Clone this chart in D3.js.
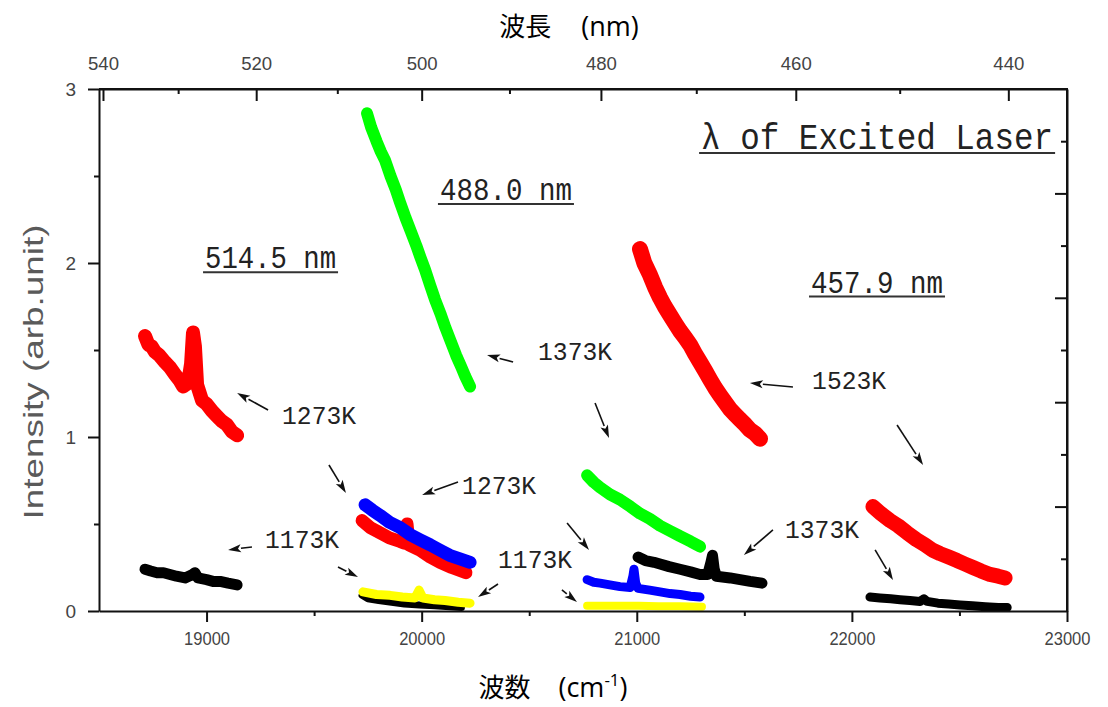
<!DOCTYPE html>
<html><head><meta charset="utf-8">
<script src="https://cdn.jsdelivr.net/npm/d3@7"></script>
<style>body{margin:0;background:#fff;} svg{display:block;}</style>
</head><body><svg id="c" width="1108" height="707"></svg>
<script>
// ---------- tick values ----------
const xTicksMajor = [19000, 20000, 21000, 22000, 23000];
const xTicksMinor = [19500, 20500, 21500, 22500];
const yTicksMajor = [0, 1, 2, 3];
const yTicksMinor = [0.5, 1.5, 2.5];
const wlTicksMajor = [540, 520, 500, 480, 460, 440];
const wlTicksMinor = [530, 510, 490, 470, 450];
const rightTicksLong = [0.6, 1.2, 1.8, 2.4];
const rightTicksShort = [0.3, 0.9, 1.5, 2.1, 2.7];

// ---------- data series: [wavenumber (cm-1), intensity] ----------
// laser 514.5 nm
const red514_1273K = [[18714,1.58],[18730,1.53],[18745,1.52],[18760,1.49],[18780,1.47],[18807,1.43],[18830,1.40],[18853,1.36],[18872,1.33],[18891,1.29],[18914,1.31],[18928,1.42],[18937,1.60],[18946,1.52],[18956,1.30],[18979,1.21],[19000,1.19],[19025,1.15],[19048,1.12],[19072,1.09],[19095,1.07],[19118,1.03],[19142,1.01]];
const black514_1173K = [[18714,0.24],[18740,0.23],[18770,0.22],[18800,0.22],[18830,0.21],[18860,0.20],[18900,0.19],[18935,0.21],[18946,0.22],[18960,0.19],[19000,0.18],[19030,0.17],[19063,0.17],[19100,0.16],[19142,0.15]];
// laser 488.0 nm
const green488_1373K = [[19746,2.86],[19765,2.78],[19790,2.70],[19810,2.64],[19830,2.59],[19855,2.50],[19880,2.42],[19899,2.35],[19925,2.26],[19950,2.18],[19975,2.10],[19995,2.03],[20016,1.96],[20040,1.87],[20062,1.79],[20090,1.70],[20110,1.63],[20132,1.56],[20160,1.47],[20185,1.40],[20202,1.35],[20225,1.29]];
const red488_1273K = [[19723,0.52],[19760,0.48],[19806,0.45],[19850,0.42],[19899,0.40],[19920,0.39],[19932,0.50],[19941,0.38],[19992,0.35],[20040,0.31],[20085,0.28],[20140,0.25],[20206,0.22]];
const blue488_1273K = [[19737,0.61],[19770,0.58],[19806,0.55],[19850,0.51],[19899,0.48],[19945,0.44],[19992,0.41],[20040,0.38],[20085,0.35],[20130,0.32],[20178,0.30],[20225,0.28]];
const black488_1173K = [[19723,0.09],[19750,0.07],[19800,0.06],[19860,0.05],[19920,0.04],[19990,0.035],[20060,0.03],[20130,0.025],[20185,0.02]];
const yellow488_1173K = [[19727,0.11],[19790,0.095],[19853,0.09],[19910,0.08],[19969,0.075],[19988,0.12],[20006,0.075],[20060,0.065],[20109,0.06],[20170,0.05],[20225,0.045]];
// laser 457.9 nm
const green458_1373K = [[20769,0.78],[20800,0.74],[20829,0.71],[20875,0.67],[20922,0.64],[20970,0.60],[21015,0.56],[21060,0.53],[21108,0.49],[21155,0.46],[21201,0.43],[21250,0.40],[21294,0.37]];
const blue458_1273K = [[20769,0.18],[20800,0.165],[20829,0.16],[20875,0.15],[20922,0.14],[20969,0.135],[20982,0.20],[20987,0.24],[20995,0.16],[21006,0.13],[21060,0.12],[21108,0.11],[21155,0.10],[21201,0.095],[21250,0.085],[21294,0.08]];
const yellow458_1173K = [[20769,0.03],[20850,0.03],[20930,0.03],[21010,0.03],[21100,0.028],[21200,0.027],[21303,0.025]];
const black458_1373K = [[21006,0.31],[21040,0.29],[21080,0.28],[21108,0.27],[21150,0.255],[21201,0.24],[21250,0.225],[21294,0.21],[21330,0.21],[21345,0.28],[21352,0.32],[21360,0.24],[21370,0.20],[21434,0.19],[21480,0.18],[21527,0.17],[21582,0.16]];
const red458_1523K = [[21015,2.08],[21035,2.00],[21062,1.93],[21085,1.86],[21108,1.80],[21130,1.75],[21155,1.70],[21180,1.65],[21201,1.61],[21225,1.57],[21248,1.53],[21270,1.48],[21294,1.43],[21318,1.38],[21341,1.33],[21365,1.28],[21387,1.24],[21410,1.20],[21434,1.16],[21457,1.13],[21480,1.10],[21505,1.07],[21527,1.04],[21550,1.02],[21573,0.99]];
const red4579_1523K = [[22098,0.60],[22135,0.56],[22177,0.52],[22215,0.49],[22256,0.45],[22300,0.41],[22340,0.38],[22375,0.35],[22410,0.33],[22450,0.31],[22489,0.29],[22525,0.27],[22563,0.25],[22600,0.23],[22642,0.21],[22680,0.20],[22712,0.19]];
const black4579_1373K = [[22084,0.08],[22130,0.075],[22180,0.07],[22224,0.065],[22270,0.06],[22317,0.055],[22335,0.07],[22350,0.055],[22400,0.045],[22450,0.04],[22503,0.035],[22560,0.03],[22620,0.025],[22680,0.02],[22722,0.02]];

// ---------- annotation texts ----------
const laserLabels = ["λ of Excited Laser", "488.0 nm", "514.5 nm", "457.9 nm"];
const tempLabels = ["1373K", "1523K", "1273K", "1273K", "1173K", "1173K", "1373K"];

// ---------- layout ----------
const svg = d3.select("#c");
const L = 99, R = 1067, T = 89, B = 611;
const x = d3.scaleLinear().domain([18500, 23000]).range([L, R]);
const y = d3.scaleLinear().domain([0, 3]).range([B, T]);
const wl = v => 1e7 / v;  // nm -> cm-1

const series = [
  {d: red514_1273K, c: "#ff0000", w: 14},
  {d: black514_1173K, c: "#000000", w: 11},
  {d: green488_1373K, c: "#00ff00", w: 12},
  {d: red488_1273K, c: "#ff0000", w: 13},
  {d: blue488_1273K, c: "#0000ff", w: 13},
  {d: black488_1173K, c: "#000000", w: 7},
  {d: yellow488_1173K, c: "#ffff00", w: 9},
  {d: green458_1373K, c: "#00ff00", w: 12},
  {d: blue458_1273K, c: "#0000ff", w: 9},
  {d: yellow458_1173K, c: "#ffff00", w: 8},
  {d: black458_1373K, c: "#000000", w: 11},
  {d: red458_1523K, c: "#ff0000", w: 16},
  {d: red4579_1523K, c: "#ff0000", w: 15},
  {d: black4579_1373K, c: "#000000", w: 9}
];

const line = d3.line().x(d => x(d[0])).y(d => y(d[1]));
svg.append("g").selectAll("path").data(series).join("path")
  .attr("d", s => line(s.d)).attr("fill", "none")
  .attr("stroke", s => s.c).attr("stroke-width", s => s.w)
  .attr("stroke-linejoin", "round").attr("stroke-linecap", "round");

// ---------- axes ----------
const tickFont = g => g.selectAll("text").attr("fill", "#444")
  .style("font-family", "'Liberation Sans', Arial, sans-serif").style("font-size", "19px");
const axisStyle = g => { g.selectAll("line").attr("stroke", "#111").attr("stroke-width", 2);
  g.selectAll(".domain").attr("stroke", "#111").attr("stroke-width", 2); };

// bottom
svg.append("g").attr("transform", `translate(0,${B})`)
  .call(d3.axisBottom(x).tickValues(xTicksMajor).tickSizeInner(11).tickSizeOuter(0).tickPadding(10).tickFormat(d3.format("d")))
  .call(axisStyle).call(tickFont)
  .call(g => g.selectAll("text").attr("textLength", 46).attr("lengthAdjust", "spacingAndGlyphs"));
svg.append("g").attr("transform", `translate(0,${B})`)
  .call(d3.axisBottom(x).tickValues(xTicksMinor).tickSize(5).tickFormat(""))
  .call(axisStyle).call(g => g.select(".domain").remove());

// top (wavelength, ticks pointing inwards)
svg.append("g").attr("transform", `translate(0,${T})`)
  .call(d3.axisTop(x).tickValues(wlTicksMajor.map(wl)).tickSizeInner(-12).tickSizeOuter(0).tickPadding(19)
    .tickFormat(v => Math.round(wl(v))))
  .call(axisStyle).call(tickFont)
  .call(g => g.selectAll("text").attr("textLength", 31).attr("lengthAdjust", "spacingAndGlyphs"));
svg.append("g").attr("transform", `translate(0,${T})`)
  .call(d3.axisTop(x).tickValues(wlTicksMinor.map(wl)).tickSize(-5).tickFormat(""))
  .call(axisStyle).call(g => g.select(".domain").remove());

// left
svg.append("g").attr("transform", `translate(${L},0)`)
  .call(d3.axisLeft(y).tickValues(yTicksMajor).tickSizeInner(11).tickSizeOuter(0).tickPadding(12).tickFormat(d3.format("d")))
  .call(axisStyle).call(tickFont);
svg.append("g").attr("transform", `translate(${L},0)`)
  .call(d3.axisLeft(y).tickValues(yTicksMinor).tickSize(5).tickFormat(""))
  .call(axisStyle).call(g => g.select(".domain").remove());

// right (ticks inwards)
svg.append("g").attr("transform", `translate(${R},0)`)
  .call(d3.axisRight(y).tickValues(rightTicksLong).tickSizeInner(-12).tickSizeOuter(0).tickFormat(""))
  .call(axisStyle);
svg.append("g").attr("transform", `translate(${R},0)`)
  .call(d3.axisRight(y).tickValues(rightTicksShort).tickSize(-6).tickFormat(""))
  .call(axisStyle).call(g => g.select(".domain").remove());

// ---------- axis titles ----------
svg.append("text").attr("transform", `translate(43,372) rotate(-90)`)
  .attr("text-anchor", "middle").attr("fill", "#5a5a5a")
  .style("font-family", "'Liberation Sans', Arial, sans-serif").style("font-size", "28px")
  .attr("textLength", 295).attr("lengthAdjust", "spacingAndGlyphs")
  .text("Intensity (arb.unit)");

const tt = svg.append("text").attr("x", 569).attr("y", 36).attr("text-anchor", "middle")
  .style("font-size", "26px").attr("fill", "#000");
tt.append("tspan").style("font-family", "'Noto Sans CJK JP'").text("波長");
tt.append("tspan").style("font-family", "'Open Sans', sans-serif").style("font-size", "27px").attr("dx", 30).text("(nm)");

const bt = svg.append("text").attr("x", 553).attr("y", 697).attr("text-anchor", "middle")
  .style("font-size", "26px").attr("fill", "#000");
bt.append("tspan").style("font-family", "'Noto Sans CJK JP'").text("波数");
bt.append("tspan").style("font-family", "'Open Sans', sans-serif").style("font-size", "27px").attr("dx", 28).text("(cm");
bt.append("tspan").style("font-family", "'Open Sans', sans-serif").style("font-size", "17px").attr("dy", -11).text("-1");
bt.append("tspan").style("font-family", "'Open Sans', sans-serif").style("font-size", "27px").attr("dy", 11).text(")");

// ---------- annotations (positions in data coordinates) ----------
const mono = "'Liberation Mono', 'DejaVu Sans Mono', monospace";
const laserPos = [ // [wn, intensity at baseline, font size, text length]
  [21299, 2.655, 32, 352], [20085, 2.362, 27, 132], [18993, 1.97, 27, 131], [21810, 1.83, 27, 132]];
laserPos.forEach((p, i) => {
  const px = x(p[0]), py = y(p[1]);
  svg.append("text").attr("transform", `translate(${px},${py}) scale(1,1.15)`)
    .attr("fill", "#222").style("font-family", mono).style("font-size", p[2] + "px")
    .attr("textLength", p[3]).attr("lengthAdjust", "spacingAndGlyphs").text(laserLabels[i]);
  svg.append("line").attr("x1", px - 2).attr("x2", px + p[3] + 2).attr("y1", py + 4).attr("y2", py + 4)
    .attr("stroke", "#333").attr("stroke-width", 2);
});
const tempPos = [[20541, 1.44], [21815, 1.275], [19351, 1.075], [20188, 0.672], [19272, 0.362], [20355, 0.247], [21689, 0.42]];
tempLabels.forEach((t, i) => {
  svg.append("text").attr("transform", `translate(${x(tempPos[i][0])},${y(tempPos[i][1])}) scale(1,1.05)`)
    .attr("fill", "#222").style("font-family", mono).style("font-size", "24.5px")
    .attr("textLength", 74).attr("lengthAdjust", "spacingAndGlyphs").text(t);
});

// arrows [tail wn, tail I, head wn, head I]
const arrows = [
  [19286, 1.155, 19142, 1.253], [19569, 0.839, 19648, 0.678], [19211, 0.368, 19100, 0.351],
  [19611, 0.253, 19704, 0.195], [20169, 0.741, 20002, 0.667], [20355, 0.155, 20262, 0.080],
  [20676, 0.506, 20778, 0.351], [20652, 0.121, 20722, 0.052], [21633, 0.466, 21498, 0.322],
  [20425, 1.431, 20304, 1.471], [20806, 1.195, 20871, 0.994], [21726, 1.287, 21526, 1.31],
  [22210, 1.069, 22331, 0.839], [22108, 0.351, 22191, 0.178]
];
const ag = svg.append("g");
arrows.forEach(a => {
  const x1 = x(a[0]), y1 = y(a[1]), x2 = x(a[2]), y2 = y(a[3]);
  const ang = Math.atan2(y2 - y1, x2 - x1), hl = 13, hw = 4;
  const bx = x2 - hl * Math.cos(ang), by = y2 - hl * Math.sin(ang);
  ag.append("line").attr("x1", x1).attr("y1", y1).attr("x2", bx).attr("y2", by)
    .attr("stroke", "#111").attr("stroke-width", 1.6);
  ag.append("path").attr("fill", "#111")
    .attr("d", `M${x2},${y2}L${bx - hw * Math.sin(ang)},${by + hw * Math.cos(ang)}L${bx + 3 * Math.cos(ang)},${by + 3 * Math.sin(ang)}L${bx + hw * Math.sin(ang)},${by - hw * Math.cos(ang)}Z`);
});

// frame (top and right edges)
svg.append("path").attr("d", `M${L},${T}H${R}V${B}`).attr("fill", "none").attr("stroke", "#111").attr("stroke-width", 2);
</script></body></html>
